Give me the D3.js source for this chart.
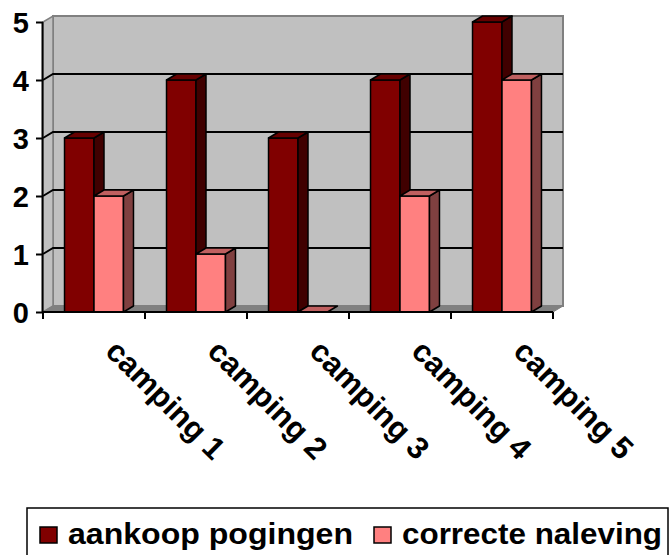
<!DOCTYPE html>
<meta charset="utf-8">
<title>Campings</title>
<script src="https://d3js.org/d3.v7.min.js"></script>
<style>
  body { margin: 0; background: #fff; }
  text { font-family: "Liberation Sans", Arial, sans-serif; font-weight: bold; fill: #000; }
</style>
<body>
</body>
<script>
  const categories = ["camping 1", "camping 2", "camping 3", "camping 4", "camping 5"];
  const seriesNames = ["aankoop pogingen", "correcte naleving"];
  const aankoop = [3, 4, 3, 4, 5];
  const correcte = [2, 1, 0, 2, 4];
  const yTicks = [0, 1, 2, 3, 4, 5];

  const width = 672, height = 555;
  // depth offset of the 3d box
  const dx = 10, dy = -6;

  const faces = [
    {front: "#800000", side: "#400000", top: "#660000"},
    {front: "#ff8080", side: "#804040", top: "#c06060"}
  ];

  const data = categories.map((c, i) => ({cat: c, vals: [aankoop[i], correcte[i]]}));

  const svg = d3.select("body").append("svg").attr("width", width).attr("height", height);

  const x0 = d3.scaleBand().domain(categories).range([43, 553]).padding(0);
  const x1 = d3.scaleBand().domain(d3.range(seriesNames.length))
      .range([0, x0.bandwidth()]).paddingInner(0).paddingOuter(0.73);
  const y = d3.scaleLinear().domain([0, 5]).range([312, 22]);

  const xL = x0.range()[0], xR = x0.range()[1];
  const yB = y(0), yT = y(5);

  ////////////////////////// walls //////////////////////////
  const walls = svg.append("g");
  // back wall
  walls.append("rect")
      .attr("x", xL + dx).attr("y", yT + dy)
      .attr("width", xR - xL).attr("height", yB - yT)
      .style("fill", "#c0c0c0")
      .style("stroke", "#808080").style("stroke-width", 2);
  // left wall
  walls.append("polygon")
      .attr("points", [[xL, yB], [xL + dx, yB + dy], [xL + dx, yT + dy], [xL, yT]].join(" "))
      .style("fill", "#c0c0c0")
      .style("stroke", "#808080").style("stroke-width", 1.5);
  // floor
  walls.append("polygon")
      .attr("points", [[xL, yB], [xL + dx, yB + dy], [xR + dx, yB + dy], [xR, yB]].join(" "))
      .style("fill", "#808080")
      .style("stroke", "#808080").style("stroke-width", 1);

  // gridlines (across left wall and back wall)
  walls.selectAll(".grid")
      .data(yTicks.filter(d => d > 0 && d < 5))
      .join("polyline")
      .attr("points", d => [[xL, y(d)], [xL + dx, y(d) + dy], [xR + dx, y(d) + dy]].join(" "))
      .style("fill", "none")
      .style("stroke", "#000").style("stroke-width", 2);

  ////////////////////////// bars //////////////////////////
  const bars = svg.append("g")
      .selectAll("g")
      .data(data.flatMap(d => d.vals.map((v, s) => ({cat: d.cat, s, v}))))
      .join("g")
      .style("stroke", "#000").style("stroke-width", 1.5).style("stroke-linejoin", "round");

  bars.each(function(d) {
    const g = d3.select(this);
    const bx = x0(d.cat) + x1(d.s), bw = x1.bandwidth();
    const top = y(d.v), bot = y(0);
    const f = faces[d.s];
    if (d.v > 0) {
      g.append("rect").attr("x", bx).attr("y", top)
          .attr("width", bw).attr("height", bot - top)
          .style("fill", f.front);
      g.append("polygon")
          .attr("points", [[bx + bw, bot], [bx + bw + dx, bot + dy], [bx + bw + dx, top + dy], [bx + bw, top]].join(" "))
          .style("fill", f.side);
    }
    g.append("polygon")
        .attr("points", [[bx, top], [bx + dx, top + dy], [bx + bw + dx, top + dy], [bx + bw, top]].join(" "))
        .style("fill", f.top);
  });

  ////////////////////////// axes //////////////////////////
  const yAxis = svg.append("g").attr("transform", `translate(${xL},0)`)
      .call(d3.axisLeft(y).tickValues(yTicks).tickFormat(d3.format("d")).tickSize(7).tickPadding(7));
  yAxis.select(".domain").attr("d", `M-0.5,${yT}V${yB}`).style("stroke", "#000").style("stroke-width", 2);
  yAxis.selectAll(".tick line").style("stroke", "#000").style("stroke-width", 2);
  yAxis.selectAll("text").style("font-size", "29px").attr("dy", "0.36em").attr("font-family", null);

  const xAxis = svg.append("g").attr("transform", `translate(0,${yB})`);
  xAxis.append("line").attr("x1", xL - 1).attr("x2", xR).attr("y1", 0).attr("y2", 0)
      .style("stroke", "#000").style("stroke-width", 2);
  xAxis.selectAll(".xt")
      .data(categories.map(c => x0(c)).concat([xR]))
      .join("line")
      .attr("x1", d => d).attr("x2", d => d).attr("y1", 0).attr("y2", 7)
      .style("stroke", "#000").style("stroke-width", 2);
  xAxis.selectAll(".xl")
      .data(categories)
      .join("text")
      .attr("transform", d => `translate(${x0(d) + x0.bandwidth() / 2 + 10},41) rotate(45)`)
      .style("font-size", "31px")
      .text(d => d);

  ////////////////////////// legend //////////////////////////
  const legend = svg.append("g");
  legend.append("rect").attr("x", 27).attr("y", 508).attr("width", 641).attr("height", 70)
      .style("fill", "#fff").style("stroke", "#000").style("stroke-width", 1.5);
  const legX = [40, 374], legLen = [285, 260];
  const item = legend.selectAll(".item").data(seriesNames).join("g")
      .attr("transform", (d, i) => `translate(${legX[i]},0)`);
  item.append("rect").attr("x", 0).attr("y", 527).attr("width", 17).attr("height", 16)
      .style("fill", (d, i) => faces[i].front).style("stroke", "#000").style("stroke-width", 1.5);
  item.append("text").attr("x", 28).attr("y", 544)
      .style("font-size", "29px")
      .attr("textLength", (d, i) => legLen[i]).attr("lengthAdjust", "spacingAndGlyphs")
      .text(d => d);
</script>
